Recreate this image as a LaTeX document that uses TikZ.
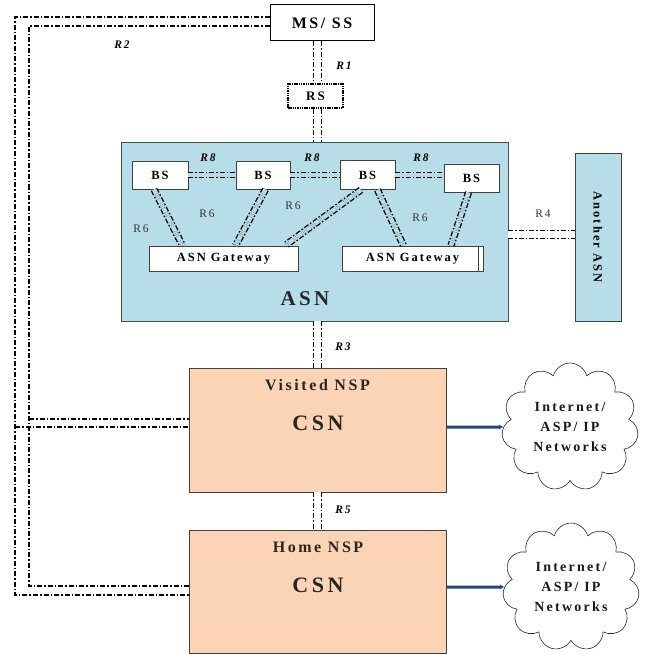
\documentclass[tikz,border=0pt]{standalone}
\usepackage{fontspec}
\setmainfont{Liberation Serif}
\newfontfamily\spcfont[LetterSpace=16]{Liberation Serif}
\usepackage{tikz}
\usetikzlibrary{shapes,shapes.symbols,arrows.meta,positioning,calc}
\definecolor{asnblue}{RGB}{183,221,232}
\definecolor{csnpeach}{RGB}{250,212,180}
\definecolor{netblue}{RGB}{31,73,125}

\tikzset{
  box/.style={draw=black!75, fill=white, line width=0.8pt, inner sep=0pt},
  bstxt/.style={font={\spcfont\bfseries\fontsize{12.5}{14}\selectfont}},
  rline/.style={line width=1.35pt, dash pattern=on 5pt off 2pt on 1.5pt off 2pt},
  rpair/.style={rline, double=#1, double distance=7pt},
  rpair/.default=white,
  rlabel/.style={font={\spcfont\bfseries\itshape\fontsize{11.5}{13}\selectfont}},
  plabel/.style={font={\spcfont\fontsize{11.5}{13}\selectfont}, text=black!80},
  netcloud/.style={cloud, cloud puffs=11, aspect=1.1, draw=black!85, line width=0.6pt,
    minimum width=137pt, minimum height=128pt, align=center,
    font={\spcfont\bfseries\fontsize{14}{20}\selectfont}, text=black!90},
  netlink/.style={netblue, line width=3pt, -{Latex[length=4pt,width=5pt]}},
}

\begin{document}
\begin{tikzpicture}[x=1pt,y=-1pt]
    \useasboundingbox (0,0) rectangle (650,655);
    \coordinate (spine) at (317.5,0);

    % terminal and relay
    \node[box, draw=black, line width=1pt, minimum width=104pt, minimum height=36pt,
      font={\spcfont\bfseries\fontsize{16}{18}\selectfont}] (ms) at (322,23) {MS/ SS};
    \node[box, draw=black, line width=1.8pt, dash pattern=on 1.5pt off 0.8pt,
      minimum width=55pt, minimum height=24pt,
      font={\spcfont\bfseries\fontsize{13}{15}\selectfont}] (rs) at (315.5,96) {RS};

    % access service network
    \node[box, draw=black!70, fill=asnblue, minimum width=387pt, minimum height=179pt] (asn) at (314.5,231.5) {};
    \node[font={\spcfont\bfseries\fontsize{21}{24}\selectfont}, text=black!85] (asnname) at (305,299) {ASN};
    \node[box, fill=asnblue, minimum width=46pt, minimum height=168pt] (another) at (598,237) {};
    \node[rotate=-90, bstxt] (anothername) at (another) {Another ASN};

    \node[box, minimum width=56pt, minimum height=28pt, bstxt] (bs1) at (160,175) {BS};
    \node[box, minimum width=54pt, minimum height=28pt, bstxt] (bs2) at (263,175) {BS};
    \node[box, minimum width=55pt, minimum height=29pt, bstxt] (bs3) at (367.5,175) {BS};
    \node[box, minimum width=55pt, minimum height=28pt, bstxt] (bs4) at (471.5,178) {BS};
    \node[box, minimum width=149pt, minimum height=25pt, bstxt] (gw1) at (223.5,258.5) {ASN Gateway};
    \node[box, minimum width=141pt, minimum height=25pt, bstxt] (gw2) at (412.5,258.5) {ASN Gateway};
    \draw[black!75, line width=0.8pt] ([xshift=-5pt]gw2.north east) -- ([xshift=-5pt]gw2.south east);

    % connectivity service networks
    \node[box, fill=csnpeach, minimum width=257pt, minimum height=124pt] (vcsn) at (318,430) {};
    \node[font={\spcfont\bfseries\fontsize{16}{18}\selectfont}, text=black!85] (vnsp) at (317.5,385) {Visited NSP};
    \node[font={\spcfont\bfseries\fontsize{22}{24}\selectfont}, text=black!85] (vname) at (318,423) {CSN};
    \node[box, fill=csnpeach, minimum width=257pt, minimum height=123pt] (hcsn) at (318,591.5) {};
    \node[font={\spcfont\bfseries\fontsize{16}{18}\selectfont}, text=black!85] (hnsp) at (318,547) {Home NSP};
    \node[font={\spcfont\bfseries\fontsize{22}{24}\selectfont}, text=black!85] (hname) at (318,585) {CSN};

    \node[netcloud] (net1) at (570,427) {Internet/\\ASP/ IP\\Networks};
    \node[netcloud] (net2) at (571,587) {Internet/\\ASP/ IP\\Networks};
    \draw[netlink] (vcsn.east |- net1) -- (net1.west);
    \draw[netlink] (hcsn.east |- net2) -- (net2.west);

    % reference points
    \draw[rpair] (ms.south -| spine) -- (rs.north -| spine);
    \draw[rpair] (rs.south -| spine) -- (asn.north -| spine);
    \draw[rpair] (asn.south -| spine) -- (vcsn.north -| spine);
    \draw[rpair] (vcsn.south -| spine) -- (hcsn.north -| spine);
    \draw[rpair] ([yshift=-3pt]asn.east) -- ([yshift=-3pt]asn.east -| another.west);

    \draw[rpair=asnblue, double distance=3.5pt] (bs1.east) -- (bs2.west);
    \draw[rpair=asnblue, double distance=3.5pt] (bs2.east) -- (bs3.west);
    \draw[rpair=asnblue, double distance=3.5pt] (bs3.east) -- (bs3.east -| bs4.west);

    \draw[rpair=asnblue, double distance=4.5pt] ([xshift=-6pt]bs1.south) -- ([xshift=-41pt]gw1.north);
    \draw[rpair=asnblue, double distance=4.5pt] ([xshift=2.5pt]bs2.south) -- ([xshift=12pt]gw1.north);
    \draw[rpair=asnblue, double distance=4.5pt] ([xshift=-6.5pt]bs3.south) -- ([xshift=61.5pt]gw1.north);
    \draw[rpair=asnblue, double distance=4.5pt] ([xshift=10pt]bs3.south) -- ([xshift=-9pt]gw2.north);
    \draw[rpair=asnblue, double distance=4.5pt] ([xshift=-3pt]bs4.south) -- ([xshift=38.5pt]gw2.north);

    \draw[rline] ([yshift=6pt]ms.west) -| (15,595) -- (hcsn.west |- 0,595);
    \draw[rline] (15,427) -- (vcsn.west |- 0,427);
    \draw[rline] ([yshift=-3pt]ms.west) -| (29,586) -- (hcsn.west |- 0,586);
    \draw[rline] (29,419) -- (vcsn.west |- 0,419);

    \node[rlabel] (lr1) at (344,66) {R1};
    \node[rlabel] (lr2) at (122,45) {R2};
    \node[rlabel] (lr3) at (343,347) {R3};
    \node[rlabel] (lr5) at (343,510) {R5};
    \node[rlabel] (lr8a) at (208,158) {R8};
    \node[rlabel] (lr8b) at (312,158) {R8};
    \node[rlabel] (lr8c) at (421,158) {R8};
    \node[plabel] (lr6a) at (141,229) {R6};
    \node[plabel] (lr6b) at (207,214) {R6};
    \node[plabel] (lr6c) at (293,206) {R6};
    \node[plabel] (lr6d) at (420,218) {R6};
    \node[plabel] (lr4) at (543,214) {R4};
\end{tikzpicture}
\end{document}
